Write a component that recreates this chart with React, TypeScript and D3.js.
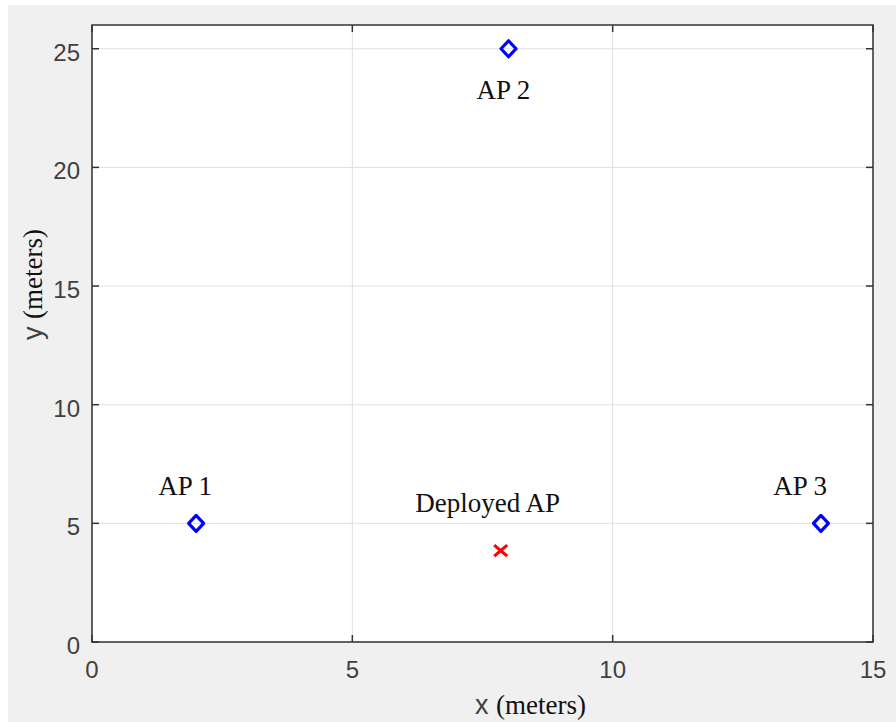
import React from 'react'
import * as d3 from 'd3'

// access points (meters)
const apNames = ['AP 1', 'AP 2', 'AP 3']
const apX = [2, 8, 14]
const apY = [5, 25, 5]
// label anchors (data units, text centred on x, baseline at y)
const apLabelX = [1.79, 7.9, 13.6]
const apLabelY = [6.2, 22.9, 6.2]

const deployedName = 'Deployed AP'
const deployedX = [7.85]
const deployedY = [3.85]
const deployedLabelX = [7.6]
const deployedLabelY = [5.48]

const xTicks = [0, 5, 10, 15]
const yTicks = [0, 5, 10, 15, 20, 25]

const W = 896
const H = 722

const App = () => {
  const x = d3.scaleLinear().domain([0, 15]).range([92, 873])
  const y = d3.scaleLinear().domain([0, 26]).range([642, 25])
  const [x0, x1] = x.range()
  const [y0, y1] = y.range()
  const tick = 7
  const boxColor = '#333333'
  const gridColor = '#dfdfdf'
  const sans = '"Liberation Sans", Arial, sans-serif'
  const serif = '"Liberation Serif", "Times New Roman", serif'

  // diamond marker, a bit taller than wide
  const diamond = (cx, cy) =>
    `M${cx},${cy - 8}L${cx + 7.5},${cy}L${cx},${cy + 8}L${cx - 7.5},${cy}Z`

  return (
    <svg
      width={W}
      height={H}
      style={{ position: 'absolute', left: 0, top: 0 }}
    >
      <rect x={0} y={0} width={W} height={H} fill="#ffffff" />
      <rect x={8} y={5} width={W - 8} height={H - 5} fill="#f0f0f0" />
      <rect x={x0} y={y1} width={x1 - x0} height={y0 - y1} fill="#ffffff" />

      {/* grid */}
      {xTicks.map((t) => (
        <line key={'gx' + t} x1={x(t)} x2={x(t)} y1={y0} y2={y1} stroke={gridColor} strokeWidth={1} />
      ))}
      {yTicks.map((t) => (
        <line key={'gy' + t} x1={x0} x2={x1} y1={y(t)} y2={y(t)} stroke={gridColor} strokeWidth={1} />
      ))}

      {/* ticks, inward on all sides */}
      {xTicks.map((t) => (
        <g key={'tx' + t}>
          <line x1={x(t)} x2={x(t)} y1={y0} y2={y0 - tick} stroke={boxColor} strokeWidth={1.5} />
          <line x1={x(t)} x2={x(t)} y1={y1} y2={y1 + tick} stroke={boxColor} strokeWidth={1.5} />
          <text x={x(t)} y={678} textAnchor="middle" fontFamily={sans} fontSize={24} fill="#404040">
            {t}
          </text>
        </g>
      ))}
      {yTicks.map((t) => (
        <g key={'ty' + t}>
          <line x1={x0} x2={x0 + tick} y1={y(t)} y2={y(t)} stroke={boxColor} strokeWidth={1.5} />
          <line x1={x1} x2={x1 - tick} y1={y(t)} y2={y(t)} stroke={boxColor} strokeWidth={1.5} />
          <text x={80} y={y(t) + 12} textAnchor="end" fontFamily={sans} fontSize={24} fill="#404040">
            {t}
          </text>
        </g>
      ))}

      {/* box */}
      <rect x={x0} y={y1} width={x1 - x0} height={y0 - y1} fill="none" stroke={boxColor} strokeWidth={1.5} />

      {/* axis labels */}
      <text x={475} y={714} fontSize={27}>
        <tspan fontFamily={sans} fill="#404040">x </tspan>
        <tspan fontFamily={serif} fill="#111111">(meters)</tspan>
      </text>
      <text transform="translate(42,340) rotate(-90)" fontSize={27}>
        <tspan fontFamily={sans} fill="#404040">y </tspan>
        <tspan fontFamily={serif} fill="#111111">(meters)</tspan>
      </text>

      {/* access points */}
      {apNames.map((n, i) => (
        <g key={n}>
          <path
            d={diamond(x(apX[i]), y(apY[i]))}
            fill="none"
            stroke="#0000ff"
            strokeWidth={3.2}
            strokeLinejoin="round"
          />
          <text x={x(apLabelX[i])} y={y(apLabelY[i])} textAnchor="middle" fontFamily={serif} fontSize={27} fill="#111111">
            {n}
          </text>
        </g>
      ))}

      {/* deployed AP */}
      {deployedX.map((d, i) => {
        const cx = x(d)
        const cy = y(deployedY[i])
        return (
          <g key={'dep' + i}>
            <path
              d={`M${cx - 6.5},${cy - 5.5}L${cx + 6.5},${cy + 5.5}M${cx - 6.5},${cy + 5.5}L${cx + 6.5},${cy - 5.5}`}
              stroke="#ff0000"
              strokeWidth={3.2}
            />
            <text x={x(deployedLabelX[i])} y={y(deployedLabelY[i])} textAnchor="middle" fontFamily={serif} fontSize={27} fill="#111111">
              {deployedName}
            </text>
          </g>
        )
      })}
    </svg>
  )
}

export default App
